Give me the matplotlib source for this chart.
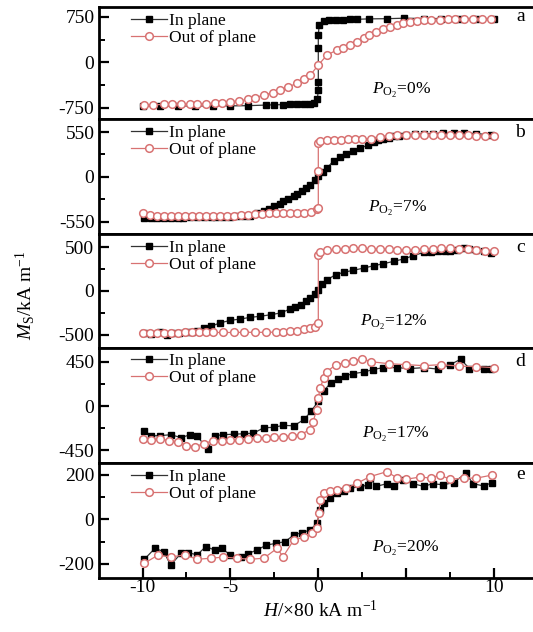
import matplotlib
matplotlib.use("Agg")
import matplotlib.pyplot as plt
from matplotlib.ticker import FixedLocator

plt.rcParams["font.family"] = ["Liberation Serif", "DejaVu Serif"]
plt.rcParams["mathtext.fontset"] = "custom"
plt.rcParams["mathtext.rm"] = "Liberation Serif"
plt.rcParams["mathtext.it"] = "Liberation Serif:italic"
plt.rcParams["axes.unicode_minus"] = False

# ---- data (H in x80 kA/m, Ms in kA/m) ----
# panel a, P_O2 = 0%
h_a_in = [-10, -9, -8, -7, -6, -5, -4.0, -3.0, -2.5, -2.0, -1.6, -1.2, -0.8, -0.5, -0.25, -0.05,
          0.0, 0.0, 0.0, 0.0, 0.05, 0.3, 0.6, 1.0, 1.4, 1.8, 2.2, 2.9, 3.9, 4.9, 6, 7, 8, 9, 10]
m_a_in = [-720, -720, -720, -720, -720, -718, -715, -705, -700, -698, -695, -692, -690, -685, -670, -600,
          -450, -320, 240, 450, 620, 690, 700, 705, 708, 710, 712, 719, 722, 730, 725, 725, 725, 725, 725]
h_a_out = [-9.9, -9.4, -8.8, -8.3, -7.8, -7.3, -6.9, -6.4, -5.9, -5.5, -5.0, -4.5, -4.0, -3.6, -3.1,
           -2.6, -2.2, -1.7, -1.2, -0.8, -0.45, 0.0, 0.5, 1.06, 1.4, 1.8, 2.2, 2.6, 2.9, 3.3, 3.7, 4.1,
           4.5, 4.8, 5.2, 5.6, 6.0, 6.4, 6.9, 7.4, 7.8, 8.3, 8.8, 9.3, 9.8]
m_a_out = [-705, -700, -694, -694, -694, -690, -688, -684, -678, -665, -650, -632, -612, -580, -540,
           -500, -457, -400, -347, -280, -209, -43, 122, 205, 245, 288, 345, 399, 455, 509, 550, 592,
           625, 647, 668, 685, 695, 702, 706, 710, 713, 715, 717, 718, 719]

# panel b, P_O2 = 7%
h_b_in = [-9.9, -9.5, -9.2, -8.8, -8.4, -8.0, -7.7, -7.3, -6.9, -6.5, -6.1, -5.8, -5.4, -5.0, -4.6,
          -4.2, -3.9, -3.5, -3.1, -2.8, -2.5, -2.2, -2.0, -1.7, -1.4, -1.2, -0.93, -0.7, -0.45, -0.2,
          0.0, 0.25, 0.5, 0.87, 1.25, 1.6, 2.0, 2.4, 2.8, 3.15, 3.4, 3.7, 4.0, 4.3, 4.6, 5.0, 5.5,
          6.0, 6.5, 7.1, 7.7, 8.3, 9.0, 9.8]
m_b_in = [-506, -510, -506, -500, -500, -505, -500, -498, -495, -497, -495, -492, -490, -488, -485,
          -480, -477, -445, -416, -390, -363, -330, -301, -270, -240, -205, -170, -135, -97, -45,
          6, 60, 108, 198, 240, 280, 321, 354, 387, 430, 450, 468, 480, 497, 505, 517, 520,
          525, 530, 538, 535, 538, 530, 517]
h_b_out = [-10, -9.6, -9.2, -8.8, -8.4, -8, -7.6, -7.2, -6.8, -6.4, -6, -5.6, -5.2, -4.8, -4.4, -4,
           -3.6, -3.2, -2.8, -2.4, -2, -1.6, -1.2, -0.8, -0.4, -0.1, 0, 0, 0, 0.1, 0.5, 0.9, 1.3, 1.7,
           2.1, 2.5, 3, 3.5, 4, 4.5, 5, 5.5, 6, 6.5, 7, 7.5, 8, 8.5, 9, 9.5, 10]
m_b_out = [-450, -475, -480, -485, -485, -485, -485, -485, -485, -483, -482, -480, -478, -476, -472, -470,
           -462, -455, -450, -448, -445, -444, -442, -440, -432, -400, -380, 70, 410, 440, 452, 455, 458, 460,
           462, 466, 470, 490, 505, 508, 510, 512, 515, 514, 512, 511, 510, 508, 505, 502, 500]

# panel c, P_O2 = 12%
h_c_in = [-9.9, -9.5, -9.0, -8.6, -8.3, -7.9, -7.5, -7.2, -6.9, -6.5, -6.1, -5.6, -5.0, -4.43, -3.86,
          -3.3, -2.7, -2.15, -1.6, -1.3, -1.0, -0.7, -0.45, -0.2, 0.0, 0.2, 0.5, 0.98, 1.45, 2.0, 2.6,
          3.15, 3.7, 4.3, 4.85, 5.4, 6.0, 6.4, 6.8, 7.2, 7.5, 7.9, 8.3, 8.6, 9.0, 9.4, 9.8]
m_c_in = [-482, -490, -474, -500, -482, -480, -474, -470, -462, -430, -405, -367, -337, -322, -302,
          -291, -272, -253, -207, -185, -158, -120, -81, -40, 14, 80, 128, 185, 213, 236, 262,
          288, 311, 339, 365, 403, 441, 450, 453, 455, 453, 470, 491, 480, 471, 455, 434]
h_c_out = [-10, -9.6, -9.2, -8.8, -8.4, -8, -7.6, -7.2, -6.8, -6.4, -6, -5.4, -4.8, -4.2, -3.6, -3,
           -2.4, -2, -1.6, -1.2, -0.8, -0.5, -0.2, 0, 0, 0.1, 0.5, 1, 1.5, 2, 2.5, 3, 3.5, 4, 4.5,
           5, 5.5, 6, 6.5, 7, 7.5, 8, 8.5, 9, 9.5, 10]
m_c_out = [-480, -482, -482, -480, -482, -478, -476, -474, -476, -476, -476, -476, -476, -474, -474, -474,
           -472, -470, -462, -455, -440, -430, -410, -370, 410, 440, 465, 475, 480, 490, 488, 485, 480, 475, 472,
           470, 472, 480, 485, 490, 487, 480, 476, 470, 462, 455]

# panel d, P_O2 = 17%
h_d_in = [-9.9, -9.5, -9.0, -8.4, -7.8, -7.3, -6.9, -6.3, -5.9, -5.4, -4.8, -4.2, -3.7, -3.1, -2.5,
          -2.0, -1.4, -0.8, -0.4, 0, 0.3, 0.7, 1.1, 1.5, 2.0, 2.6, 3.1, 3.7, 4.5, 5.2, 6.0, 6.8, 7.5,
          8.1, 8.6, 9.4, 9.8]
m_d_in = [-250, -300, -300, -290, -320, -290, -300, -440, -300, -290, -285, -280, -275, -220, -215,
          -195, -200, -135, -50, 50, 150, 235, 270, 305, 330, 345, 370, 390, 390, 380, 390, 375, 420,
          475, 380, 375, 380]
h_d_out = [-10, -9.5, -9, -8.5, -8, -7.5, -7, -6.5, -6, -5.5, -5, -4.5, -4, -3.5, -3, -2.5, -2, -1.5,
           -1, -0.5, -0.3, -0.1, 0, 0.1, 0.3, 0.5, 1, 1.5, 2, 2.5, 3, 4, 5, 6, 7, 8, 9, 10]
m_d_out = [-330, -340, -330, -350, -360, -400, -410, -380, -350, -350, -340, -345, -330, -325, -320,
           -315, -310, -300, -290, -240, -160, -40, 80, 180, 280, 350, 420, 440, 460, 480, 450, 430,
           420, 410, 420, 405, 400, 390]

# panel e, P_O2 = 20%
h_e_in = [-9.9, -9.3, -8.8, -8.4, -7.8, -7.4, -6.9, -6.4, -5.9, -5.5, -5.0, -4.4, -4.0, -3.5, -2.95,
          -2.4, -1.9, -1.4, -0.93, -0.45, -0.08, 0.11, 0.3, 0.68, 1.06, 1.44, 1.8, 2.4, 2.8, 2.95, 3.3,
          3.9, 4.3, 4.8, 5.4, 6.0, 6.5, 7.1, 7.7, 8.4, 8.8, 9.4, 9.9]
m_e_in = [-180, -131, -145, -206, -152, -150, -160, -123, -138, -131, -160, -168, -155, -138, -116,
          -108, -101, -71, -60, -48, -18, 42, 72, 94, 117, 125, 140, 146, 154, 184, 148, 160, 150, 177,
          160, 148, 160, 155, 165, 207, 160, 150, 165]
h_e_out = [-9.9, -9.1, -8.4, -7.6, -6.9, -6.1, -5.4, -4.6, -3.9, -3.1, -2.35, -2.0, -1.4, -0.83, -0.36,
           -0.08, 0.02, 0.11, 0.3, 0.68, 1.06, 1.6, 2.2, 2.95, 3.9, 4.5, 5.0, 5.8, 6.4, 6.9, 7.5, 8.3,
           9.0, 9.9]
m_e_out = [-198, -160, -170, -160, -180, -175, -170, -175, -180, -175, -131, -168, -93, -81, -63, -40,
           27, 87, 117, 126, 130, 140, 162, 192, 214, 185, 180, 190, 185, 199, 180, 185, 185, 199]

panels = [
    ("a", "0%", h_a_in, m_a_in, h_a_out, m_a_out, 750, (-935, 915), (3.07, -457)),
    ("b", "7%", h_b_in, m_b_in, h_b_out, m_b_out, 550, (-706, 710), (2.8, -383)),
    ("c", "12%", h_c_in, m_c_in, h_c_out, m_c_out, 500, (-648, 648), (2.4, -356)),
    ("d", "17%", h_d_in, m_d_in, h_d_out, m_d_out, 450, (-577, 594), (2.5, -283)),
    ("e", "20%", h_e_in, m_e_in, h_e_out, m_e_out, 200, (-264, 253), (3.07, -129)),
]

# panel edges in pixels from the top
edges = [7, 119, 234.3, 347.5, 463, 578]
W, H = 533, 632
red = "#d87272"

fig = plt.figure(figsize=(W / 100, H / 100), dpi=100)

for i, (lab, po2, hi, mi, ho, mo, tk, ylim, ptxt) in enumerate(panels):
    top, bot = edges[i], edges[i + 1]
    ax = fig.add_axes([98.6 / W, 1 - bot / H, (538 - 98.6) / W, (bot - top) / H])
    ax.plot(hi, mi, "-s", color="#333333", lw=0.9, ms=5, mfc="black", mec="black",
            label="In plane", zorder=2)
    ax.plot(ho, mo, "-o", color=red, lw=0.9, ms=5.5, mfc="white", mec=red, mew=1.1,
            label="Out of plane", zorder=3)
    ax.set_xlim(-12.5, 12.5)
    ax.set_ylim(*ylim)
    ax.yaxis.set_major_locator(FixedLocator([-tk, 0, tk]))
    ax.yaxis.set_minor_locator(FixedLocator([-tk / 2, tk / 2]))
    ax.set_yticklabels([str(-tk), "0", str(tk)])
    ax.tick_params(axis="y", which="major", direction="in", length=7, width=1.6, labelsize=14, pad=3)
    ax.tick_params(axis="y", which="minor", direction="in", length=4, width=1.4)
    for s in ax.spines.values():
        s.set_linewidth(2.0)
    if lab == "e":
        ax.xaxis.set_major_locator(FixedLocator([-10, -5, 0, 5, 10]))
        ax.xaxis.set_minor_locator(FixedLocator([-7.5, -2.5, 2.5, 7.5]))
        ax.set_xticklabels(["-10", "-5", "0", "", "10"])
        ax.tick_params(axis="x", which="major", direction="in", length=7, width=1.6, labelsize=14, pad=1)
        ax.tick_params(axis="x", which="minor", direction="in", length=4, width=1.4)
    else:
        ax.set_xticks([])
    ax.legend(loc="upper left", bbox_to_anchor=(0.05, 1.04), frameon=False, fontsize=12.5,
              handlelength=2.1, handletextpad=0.1, labelspacing=0.05, borderaxespad=0.2)
    ax.text(11.5, tk, lab, fontsize=14, ha="center", va="center")
    ax.text(ptxt[0], ptxt[1], r"$P_{\mathrm{O_2}}$=" + po2, fontsize=12.5, ha="left", va="center")

fig.text(25 / W, 1 - 295 / H, r"$M_\mathrm{S}$/kA m$^{-1}$", rotation=90, fontsize=14,
         ha="center", va="center")
fig.text(320 / W, 1 - 610 / H, r"$H$/×80 kA m$^{-1}$", fontsize=14, ha="center", va="center")

fig.savefig("out.png", dpi=100)
